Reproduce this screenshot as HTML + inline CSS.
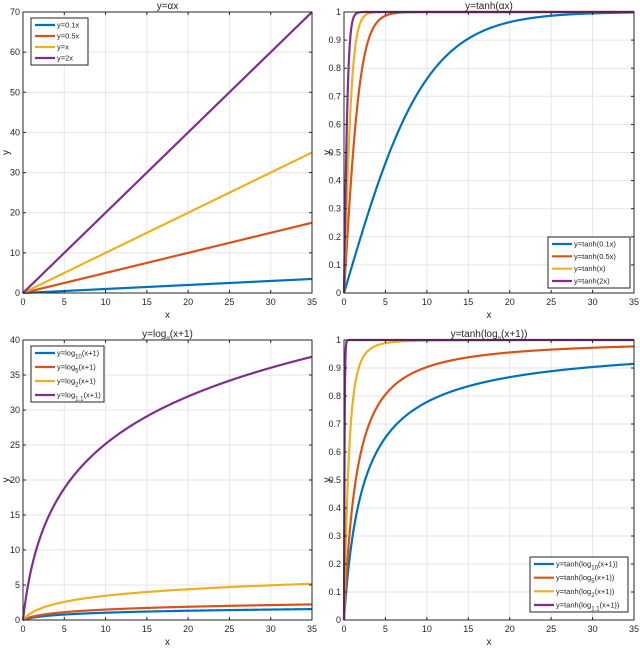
<!DOCTYPE html>
<html><head><meta charset="utf-8"><style>
body{margin:0;background:#fff;}
svg{display:block;font-family:"Liberation Sans",sans-serif;}
</style></head><body>
<svg id="fig" width="640" height="648"></svg>
<script>
const xTicks=[0,5,10,15,20,25,30,35];
const linCoefs=[0.1,0.5,1,2];
const linLabels=["y=0.1x","y=0.5x","y=x","y=2x"];
const linYTicks=[0,10,20,30,40,50,60,70];
const tanhCoefs=[0.1,0.5,1,2];
const tanhLabels=["y=tanh(0.1x)","y=tanh(0.5x)","y=tanh(x)","y=tanh(2x)"];
const unitYTicks=[0,0.1,0.2,0.3,0.4,0.5,0.6,0.7,0.8,0.9,1];
const logBases=[10,5,2,1.1];
const logBaseLabels=["10","5","2","1.1"];
const logYTicks=[0,5,10,15,20,25,30,35,40];
const colors=["#0072BD","#D95319","#EDB120","#7E2F8E"];
const NS="http://www.w3.org/2000/svg";
const svg=document.getElementById('fig');
function mk(tag,attrs,parent){const e=document.createElementNS(NS,tag);for(const k in attrs)e.setAttribute(k,attrs[k]);(parent||svg).appendChild(e);return e;}
function txt(s,x,y,anchor,size,parent){const t=mk('text',{x:x,y:y,'text-anchor':anchor,'font-size':size,fill:'#262626'},parent);t.innerHTML=s;return t;}

function panel(name,box,ymax,yTicks,yFmt,title,fns,labels,legend){
  const g=mk('g',{});
  
  
  const sx=v=>box.x0+(v/35)*(box.x1-box.x0);
  const sy=v=>box.y0-(v/ymax)*(box.y0-box.y1);
  xTicks.forEach(t=>{const l=mk('line',{x1:sx(t),x2:sx(t),y1:box.y1,y2:box.y0,stroke:'#e6e6e6','stroke-width':1},g);});
  yTicks.forEach(t=>{const l=mk('line',{x1:box.x0,x2:box.x1,y1:sy(t),y2:sy(t),stroke:'#e6e6e6','stroke-width':1},g);});
  fns.forEach((f,i)=>{
    let d='';
    for(let k=0;k<=1400;k++){const x=35*Math.pow(k/1400,1.6);let y=Math.min(Math.max(f(x),0),ymax);d+=(k?'L':'M')+sx(x).toFixed(2)+','+sy(y).toFixed(2);}
    const p=mk('path',{d:d,fill:'none',stroke:colors[i],'stroke-width':2.2},g);
    
    
  });
  const fr=mk('rect',{x:box.x0,y:box.y1,width:box.x1-box.x0,height:box.y0-box.y1,fill:'none',stroke:'#262626','stroke-width':1},g);
  
  xTicks.forEach(t=>{mk('line',{x1:sx(t),x2:sx(t),y1:box.y0,y2:box.y0-3,stroke:'#262626'},g);mk('line',{x1:sx(t),x2:sx(t),y1:box.y1,y2:box.y1+3,stroke:'#262626'},g);
    const l=txt(String(t),sx(t),box.y0+12,'middle',9,g);});
  yTicks.forEach(t=>{mk('line',{x1:box.x0,x2:box.x0+3,y1:sy(t),y2:sy(t),stroke:'#262626'},g);mk('line',{x1:box.x1,x2:box.x1-3,y1:sy(t),y2:sy(t),stroke:'#262626'},g);
    const l=txt(yFmt(t),box.x0-3,sy(t)+3,'end',9,g);});
  const xl=txt('x',(box.x0+box.x1)/2,box.y0+25,'middle',10,g);
  const yl=txt('y',0,0,'middle',10,g);yl.setAttribute('transform','translate('+(box.x0-14)+','+((box.y0+box.y1)/2)+') rotate(-90)');
  
  const tt=txt(title,(box.x0+box.x1)/2,box.y1-3,'middle',10,g);
  const lg=mk('g',{},g);
  
  mk('rect',{x:legend.x,y:legend.y,width:legend.w,height:legend.h,fill:'#fff',stroke:'#262626','stroke-width':1},lg);
  const step=(legend.h-14)/3;
  labels.forEach((s,i)=>{const yy=legend.y+7+i*step;
    mk('line',{x1:legend.x+4,x2:legend.x+24,y1:yy,y2:yy,stroke:colors[i],'stroke-width':2.2},lg);
    const e=txt(s,legend.x+26,yy+2.5,'start',7.5,lg);});
}
const f0=v=>String(v);
panel('plot-linear',{x0:23,x1:312,y0:293,y1:12},70,linYTicks,f0,'y=αx',
  linCoefs.map(a=>x=>a*x),linLabels,{x:31,y:18,w:57,h:47});
panel('plot-tanh',{x0:344,x1:634,y0:293,y1:12},1,unitYTicks,v=>String(+v.toFixed(1)),'y=tanh(αx)',
  tanhCoefs.map(a=>x=>Math.tanh(a*x)),tanhLabels,{x:548,y:237,w:82,h:51});
const sub=b=>'<tspan baseline-shift="sub" font-size="6">'+b+'</tspan>';
panel('plot-log',{x0:23,x1:312,y0:620,y1:340},40,logYTicks,f0,'y=log'+sub('α')+'(x+1)',
  logBases.map(b=>x=>Math.log(x+1)/Math.log(b)),logBaseLabels.map(b=>'y=log'+sub(b)+'(x+1)'),{x:31,y:346,w:73,h:56});
panel('plot-tanh-log',{x0:344,x1:634,y0:620,y1:340},1,unitYTicks,v=>String(+v.toFixed(1)),'y=tanh(log'+sub('α')+'(x+1))',
  logBases.map(b=>x=>Math.tanh(Math.log(x+1)/Math.log(b))),logBaseLabels.map(b=>'y=tanh(log'+sub(b)+'(x+1))'),{x:530,y:557,w:98,h:55});
</script>
</body></html>
